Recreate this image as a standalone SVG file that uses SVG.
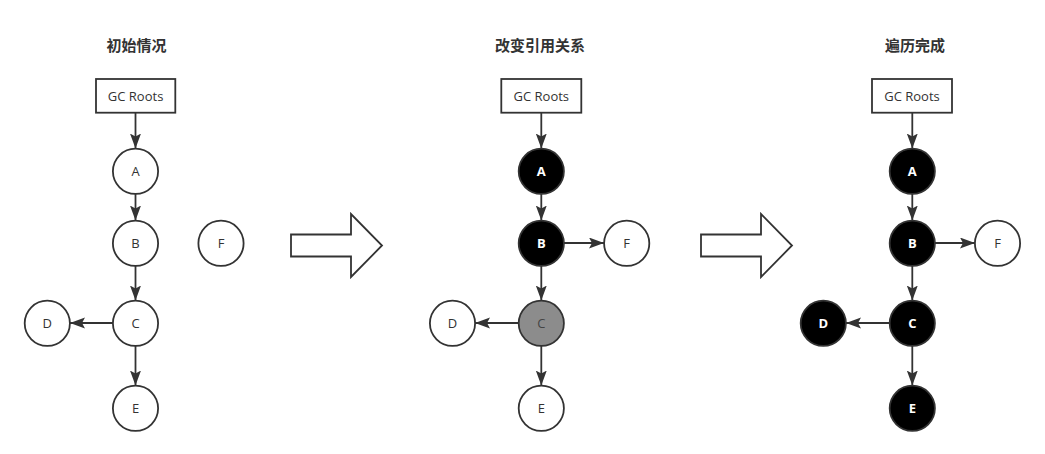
<svg xmlns="http://www.w3.org/2000/svg" width="1045" height="454" viewBox="0 0 1045 454">
<style>
.title{font-family:"Noto Sans CJK SC","Noto Sans",sans-serif;font-size:15px;font-weight:bold;fill:#333;text-anchor:middle}
.box{fill:#fff;stroke:#333;stroke-width:1.8}
.n{stroke:#333;stroke-width:1.8}
.w{fill:#fff}
.b{fill:#000}
.g{fill:#8c8c8c}
.lbl{font-family:"Open Sans","Noto Sans",sans-serif;font-size:13px;fill:#333;text-anchor:middle}
.lw{font-family:"Open Sans","Noto Sans",sans-serif;font-size:13px;font-weight:bold;fill:#fff;text-anchor:middle}
.lg{font-family:"Open Sans","Noto Sans",sans-serif;font-size:13px;fill:#444;text-anchor:middle}
.e{stroke:#333;stroke-width:1.8;fill:none;marker-end:url(#ah)}
.big{fill:#fff;stroke:#333;stroke-width:1.8}
</style>
<defs>
<marker id="ah" markerUnits="userSpaceOnUse" markerWidth="16" markerHeight="12" refX="15" refY="5.5" orient="auto" viewBox="0 0 16 12">
<path d="M0,0 L15,5.5 L0,11 L3,5.5 Z" fill="#333"/>
</marker>
</defs>
<g id="titles">
<text class="title" x="136.5" y="50.5">初始情况</text>
<text class="title" x="540" y="50.5">改变引用关系</text>
<text class="title" x="915" y="50.5">遍历完成</text>
</g>
<g id="connectors">
<line class="e" x1="135.5" y1="112.7" x2="135.5" y2="148.5"/>
<line class="e" x1="135.5" y1="194" x2="135.5" y2="220.5"/>
<line class="e" x1="135.5" y1="266" x2="135.5" y2="300.5"/>
<line class="e" x1="113" y1="323" x2="70" y2="323"/>
<line class="e" x1="135.5" y1="346" x2="135.5" y2="385.5"/>

<line class="e" x1="541.3" y1="112.7" x2="541.3" y2="148.5"/>
<line class="e" x1="541.3" y1="194" x2="541.3" y2="220.5"/>
<line class="e" x1="564" y1="243" x2="604" y2="243"/>
<line class="e" x1="541.3" y1="266" x2="541.3" y2="300.5"/>
<line class="e" x1="519" y1="323" x2="475" y2="323"/>
<line class="e" x1="541.3" y1="346" x2="541.3" y2="385.5"/>

<line class="e" x1="912.3" y1="112.7" x2="912.3" y2="148.5"/>
<line class="e" x1="912.3" y1="194" x2="912.3" y2="220.5"/>
<line class="e" x1="935" y1="243" x2="975" y2="243"/>
<line class="e" x1="912.3" y1="266" x2="912.3" y2="300.5"/>
<line class="e" x1="890" y1="323" x2="846" y2="323"/>
<line class="e" x1="912.3" y1="346" x2="912.3" y2="385.5"/>
</g>
<g id="bigarrow1"><polygon class="big" points="291,234.5 351,234.5 351,214 382,245.5 351,277 351,256.5 291,256.5"/></g>
<g id="bigarrow2"><polygon class="big" points="701,234.5 761,234.5 761,214 792,245.5 761,277 761,256.5 701,256.5"/></g>

<g id="p1-gcroots"><rect class="box" x="96" y="79" width="79.3" height="33.7"/><text class="lbl" x="135.6" y="100.8">GC Roots</text></g>
<g id="p1-A"><circle class="n w" cx="135.5" cy="171.3" r="22.6"/><text class="lbl" x="135.5" y="176">A</text></g>
<g id="p1-B"><circle class="n w" cx="135.5" cy="243.3" r="22.6"/><text class="lbl" x="135.5" y="248">B</text></g>
<g id="p1-C"><circle class="n w" cx="135.5" cy="323.3" r="22.6"/><text class="lbl" x="135.5" y="328">C</text></g>
<g id="p1-D"><circle class="n w" cx="47.3" cy="323.3" r="22.6"/><text class="lbl" x="47.3" y="328">D</text></g>
<g id="p1-E"><circle class="n w" cx="135.5" cy="408.3" r="22.6"/><text class="lbl" x="135.5" y="413">E</text></g>
<g id="p1-F"><circle class="n w" cx="221" cy="243.3" r="22.6"/><text class="lbl" x="221" y="248">F</text></g>

<g id="p2-gcroots"><rect class="box" x="501.3" y="79" width="80" height="33.7"/><text class="lbl" x="541.3" y="100.8">GC Roots</text></g>
<g id="p2-A"><circle class="n b" cx="541.3" cy="171.3" r="22.6"/><text class="lw" x="541.3" y="176">A</text></g>
<g id="p2-B"><circle class="n b" cx="541.3" cy="243.3" r="22.6"/><text class="lw" x="541.3" y="248">B</text></g>
<g id="p2-C"><circle class="n g" cx="541.3" cy="323.3" r="22.6"/><text class="lg" x="541.3" y="328">C</text></g>
<g id="p2-D"><circle class="n w" cx="452.5" cy="323.3" r="22.6"/><text class="lbl" x="452.5" y="328">D</text></g>
<g id="p2-E"><circle class="n w" cx="541.3" cy="408.3" r="22.6"/><text class="lbl" x="541.3" y="413">E</text></g>
<g id="p2-F"><circle class="n w" cx="626.7" cy="243.3" r="22.6"/><text class="lbl" x="626.7" y="248">F</text></g>

<g id="p3-gcroots"><rect class="box" x="872" y="79" width="80" height="33.7"/><text class="lbl" x="912" y="100.8">GC Roots</text></g>
<g id="p3-A"><circle class="n b" cx="912.3" cy="171.3" r="22.6"/><text class="lw" x="912.3" y="176">A</text></g>
<g id="p3-B"><circle class="n b" cx="912.3" cy="243.3" r="22.6"/><text class="lw" x="912.3" y="248">B</text></g>
<g id="p3-C"><circle class="n b" cx="912.3" cy="323.3" r="22.6"/><text class="lw" x="912.3" y="328">C</text></g>
<g id="p3-D"><circle class="n b" cx="823.3" cy="323.3" r="22.6"/><text class="lw" x="823.3" y="328">D</text></g>
<g id="p3-E"><circle class="n b" cx="912.3" cy="408.3" r="22.6"/><text class="lw" x="912.3" y="413">E</text></g>
<g id="p3-F"><circle class="n w" cx="997.5" cy="243.3" r="22.6"/><text class="lbl" x="997.5" y="248">F</text></g>
</svg>
